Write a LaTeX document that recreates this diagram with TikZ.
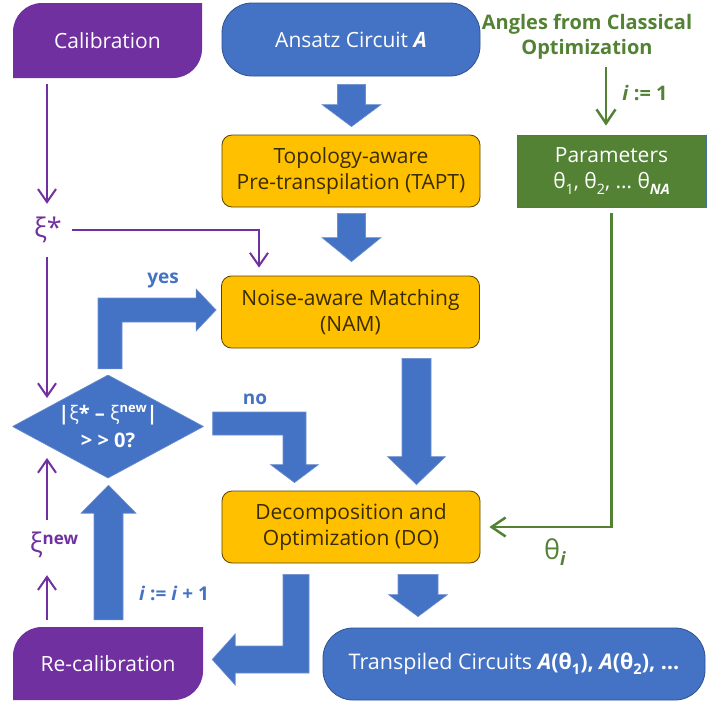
\documentclass[tikz,border=0pt]{standalone}
\usepackage{fontspec}
\setmainfont{Open Sans}
\usetikzlibrary{arrows.meta,calc}

\definecolor{qblue}{HTML}{4472C4}
\definecolor{qbluedge}{HTML}{2F528F}
\definecolor{qarrowedge}{HTML}{6E8ED0}
\definecolor{qpurple}{HTML}{7030A0}
\definecolor{qyellow}{HTML}{FFC000}
\definecolor{qyellowedge}{HTML}{5A4500}
\definecolor{qdark}{HTML}{3A2C00}
\definecolor{qgreen}{HTML}{548235}
\definecolor{qgreenedge}{HTML}{41719C}

% small raised / lowered text
\newcommand\lowtext[1]{\raisebox{-0.25em}{\scalebox{0.68}{#1}}}
\newcommand\hightext[1]{\raisebox{0.42em}{\scalebox{0.65}{#1}}}

% thick block arrow pointing down, from shaft top #1 to tip #2
% #3 half shaft width, #4 half head width, #5 head length
\newcommand\fatdown[5]{%
  \path[blockarrow] let \p1=(#1), \p2=(#2) in
    (\x1-#3,\y1) -- (\x1+#3,\y1) -- (\x1+#3,\y2+#5) -- (\x1+#4,\y2+#5)
    -- (\x1,\y2) -- (\x1-#4,\y2+#5) -- (\x1-#3,\y2+#5) -- cycle;}

\tikzset{
  every node/.style={inner sep=0pt},
  boxtext/.style={font=\fontsize{21}{26}\selectfont, align=center},
  stagebox/.style={boxtext, draw=qyellowedge, line width=0.8pt, fill=qyellow,
    rounded corners=10pt, minimum width=258pt, minimum height=72pt, text=qdark},
  pill/.style={boxtext, draw=qbluedge, line width=0.8pt, fill=qblue,
    rounded corners=30pt, text=white},
  parambox/.style={boxtext, draw=qgreenedge, line width=0.8pt, fill=qgreen, text=white},
  calshape/.style={boxtext, text=white, path picture={
    \fill[qpurple] (path picture bounding box.south west)
      -- ($(path picture bounding box.north west)+(0,29)$)
      .. controls ($(path picture bounding box.north west)+(0,13)$)
      and ($(path picture bounding box.north west)+(13,0)$)
      .. ($(path picture bounding box.north west)+(29,0)$)
      -- (path picture bounding box.north east)
      -- ($(path picture bounding box.south east)+(0,-29)$)
      .. controls ($(path picture bounding box.south east)+(0,-13)$)
      and ($(path picture bounding box.south east)+(-13,0)$)
      .. ($(path picture bounding box.south east)+(-29,0)$)
      -- cycle;}},
  decision/.style={font=\fontsize{20}{27}\bfseries\selectfont, align=center, text=white,
    path picture={
    \filldraw[fill=qblue, draw=qarrowedge, line width=0.6pt]
      (path picture bounding box.west) -- (path picture bounding box.north)
      -- (path picture bounding box.east) -- (path picture bounding box.south) -- cycle;}},
  blockarrow/.style={fill=qblue, draw=qarrowedge, line width=0.6pt},
  purpleline/.style={draw=qpurple, line width=2pt, -{Straight Barb[length=13pt,width=18pt]}},
  greenline/.style={draw=qgreen, line width=2.5pt, -{Straight Barb[length=14pt,width=19pt]}},
  greek/.style={font=\fontsize{27}{30}\selectfont},
  bluelabel/.style={font=\fontsize{19}{24}\bfseries\selectfont, text=qblue},
  greenlabel/.style={font=\fontsize{20}{25}\bfseries\selectfont, text=qgreen, align=center},
}

\begin{document}
\begin{tikzpicture}[x=1pt,y=-1pt]
\useasboundingbox[fill=white] (0,0) rectangle (716,704);

% main boxes
\node[calshape, minimum width=189pt, minimum height=75pt] (cal) at (107.5,40.5) {Calibration};
\node[pill, minimum width=258pt, minimum height=73pt] (ans) at (351,39.5) {Ansatz Circuit \textbf{\textit{A}}};
\node[stagebox] (tapt) at (351,171) {Topology-aware\\Pre-transpilation (TAPT)};
\node[stagebox] (nam) at (350.5,312) {Noise-aware Matching\\(NAM)};
\node[stagebox] (do) at (351,527) {Decomposition and\\Optimization (DO)};
\node[parambox, minimum width=189pt, minimum height=72pt] (par) at (611.5,171)
  {Parameters\\θ\lowtext{1}, θ\lowtext{2}, … θ\lowtext{\textbf{\textit{NA}}}};
\node[pill, minimum width=382pt, minimum height=72pt, font=\fontsize{21.5}{26}\selectfont] (tc) at (514,664)
  {Transpiled Circuits \textbf{\textit{A}(θ\lowtext{1}), \textit{A}(θ\lowtext{2}), …}};
\node[calshape, minimum width=190pt, minimum height=73pt] (recal) at (108,663.5) {Re-calibration};
\node[decision, minimum width=191pt, minimum height=103pt] (dia) at (108,426.5)
  {|{\mdseries ξ}* – {\mdseries ξ}\hightext{new}|\\> > 0?};

% labels
\node[greenlabel, minimum height=56pt] (ang) at (587,37) {Angles from Classical\\Optimization};
\node[greenlabel] (ione) at (645,93) {\textit{i} := 1};
\node[greek, text=qgreen] (thi) at (555,552) {θ\lowtext{\textbf{\textit{i}}}};
\node[greek, text=qpurple, minimum width=34pt, minimum height=36pt] (xis) at (48,230) {ξ*};
\node[greek, text=qpurple, minimum width=60pt, minimum height=36pt] (xin) at (54,545)
  {ξ\raisebox{0.3em}{\fontsize{17}{17}\bfseries\selectfont new}};
\node[bluelabel] (yes) at (163,280) {yes};
\node[bluelabel] (no) at (255,399) {no};
\node[bluelabel] (inc) at (174,593) {\textit{i} := \textit{i} + 1};

% straight block arrows
\fatdown{$(ans.south)+(0.5,8)$}{$(tapt.north)+(0.5,-8)$}{14pt}{29.5pt}{22pt}
\fatdown{$(tapt.south)+(0.5,6)$}{$(nam.north)+(0.5,-14)$}{14pt}{29.5pt}{24pt}
\fatdown{$(nam.south)+(66,10)$}{$(do.north)+(66,-6)$}{14.5pt}{29pt}{28pt}
\fatdown{$(do.south)+(67,11)$}{$(tc.north)+(67,-11)$}{20pt}{29.5pt}{22pt}

% bent block arrows
\coordinate (yesS) at ($(dia.north)+(2,-6)$);
\coordinate (yesT) at ($(nam.west)+(-5,-2)$);
\path[blockarrow] let \p1=(yesS), \p2=(yesT) in
  (\x1-12pt,\y1) -- (\x1-12pt,\y2+12pt) -- (\x2-20pt,\y2+12pt) -- (\x2-20pt,\y2+21pt)
  -- (\x2,\y2) -- (\x2-20pt,\y2-21pt) -- (\x2-20pt,\y2-12pt) -- (\x1+12pt,\y2-12pt)
  -- (\x1+12pt,\y1) -- cycle;

\coordinate (noS) at ($(dia.east)+(9,-3)$);
\coordinate (noT) at ($(do.north)+(-56.5,-8)$);
\path[blockarrow] let \p1=(noS), \p2=(noT) in
  (\x1,\y1+11.5pt) -- (\x2+11.5pt,\y1+11.5pt) -- (\x2+11.5pt,\y2+18pt) -- (\x2+24pt,\y2+18pt)
  -- (\x2,\y2) -- (\x2-24pt,\y2+18pt) -- (\x2-11.5pt,\y2+18pt) -- (\x2-11.5pt,\y1-11.5pt)
  -- (\x1,\y1-11.5pt) -- cycle;

\coordinate (backS) at ($(do.south)+(-55,11)$);
\coordinate (backT) at ($(recal.east)+(9,-4)$);
\path[blockarrow] let \p1=(backS), \p2=(backT) in
  (\x1-13pt,\y1) -- (\x1+13pt,\y1) -- (\x1+13pt,\y2-13.5pt) -- (\x2+23pt,\y2-13.5pt)
  -- (\x2+23pt,\y2-25.5pt) -- (\x2,\y2) -- (\x2+23pt,\y2+25.5pt) -- (\x2+23pt,\y2+13.5pt)
  -- (\x1-13pt,\y2+13.5pt) -- cycle;

\coordinate (upS) at ($(recal.north)+(0.5,-7)$);
\coordinate (upT) at ($(dia.south)+(0.5,7)$);
\path[blockarrow] let \p1=(upS), \p2=(upT) in
  (\x1-14.5pt,\y1) -- (\x1-14.5pt,\y2-28pt) -- (\x1-27.5pt,\y2-28pt) -- (\x1,\y2)
  -- (\x1+27.5pt,\y2-28pt) -- (\x1+14.5pt,\y2-28pt) -- (\x1+14.5pt,\y1) -- cycle;

% calibration data flow
\coordinate (pl) at (47,0);
\coordinate (namin) at ($(nam.north)+(-91.5,0)$);
\coordinate (diaUL) at ($(dia.center)+(-61,-28.5)$);
\coordinate (diaLL) at ($(dia.center)+(-61,31.5)$);
\draw[purpleline, shorten <=6pt, shorten >=8pt] (cal.south -| pl) -- (xis.north -| pl);
\draw[purpleline, shorten <=7pt, shorten >=8pt] (xis.east) -| (namin);
\draw[purpleline, shorten <=9pt] (xis.south -| pl) -- (diaUL);
\draw[purpleline, shorten <=7pt] (xin.north -| pl) -- (diaLL);
\draw[purpleline, shorten <=7pt, shorten >=12pt] (recal.north -| pl) -- (xin.south -| pl);

% parameter flow
\coordinate (gl) at (606,0);
\draw[greenline, shorten <=2pt, shorten >=9pt] (ang.south -| gl) -- (par.north -| gl);
\draw[greenline, shorten <=6pt, shorten >=9pt] (par.south) |- (do.east);
\end{tikzpicture}
\end{document}
